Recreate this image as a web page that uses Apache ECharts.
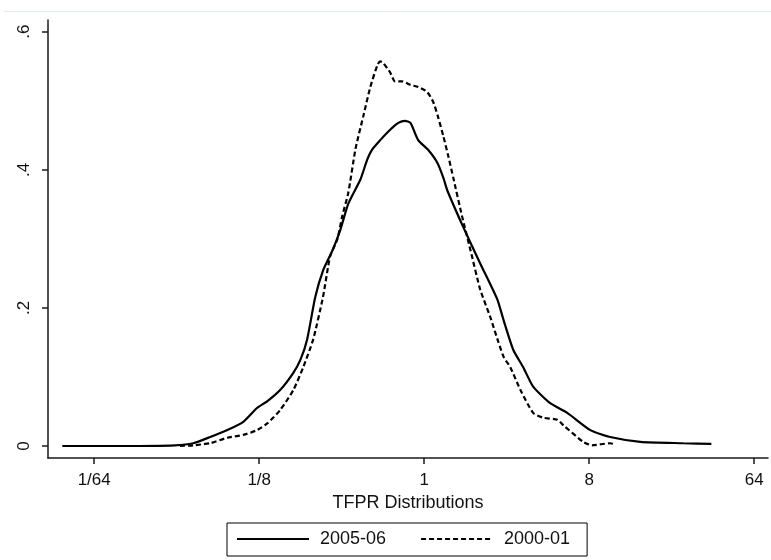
<!DOCTYPE html>
<html>
<head>
<meta charset="utf-8">
<script src="https://cdn.jsdelivr.net/npm/echarts@6/dist/echarts.min.js"></script>
<style>
  html, body { margin: 0; padding: 0; background: #fff; }
  #chart { width: 771px; height: 560px; }
</style>
</head>
<body>
<div id="chart"></div>
<script>
// x values are log2(TFPR), y values are densities
var solidX = [-6.58, -5.5, -4.53, -4.20, -3.89, -3.58, -3.29, -3.04, -2.85, -2.62, -2.38, -2.25, -2.13, -1.98, -1.84, -1.67, -1.53, -1.38, -1.16, -1.04, -0.95, -0.80, -0.62, -0.47, -0.35, -0.25, -0.11, 0.07, 0.24, 0.35, 0.42, 0.71, 1.02, 1.33, 1.44, 1.62, 1.80, 1.98, 2.29, 2.60, 3.02, 3.38, 3.93, 4.71, 5.22];
var solidY = [0, 0, 0.001, 0.004, 0.013, 0.023, 0.035, 0.055, 0.065, 0.081, 0.106, 0.125, 0.154, 0.216, 0.254, 0.283, 0.312, 0.351, 0.386, 0.414, 0.429, 0.443, 0.458, 0.468, 0.471, 0.468, 0.443, 0.429, 0.410, 0.388, 0.370, 0.317, 0.264, 0.212, 0.183, 0.139, 0.114, 0.086, 0.062, 0.048, 0.023, 0.013, 0.006, 0.004, 0.003];

var dashedX = [-4.44, -4.20, -3.89, -3.58, -3.29, -3.04, -2.85, -2.62, -2.38, -2.20, -2.02, -1.84, -1.71, -1.58, -1.49, -1.38, -1.25, -1.11, -0.98, -0.85, -0.80, -0.75, -0.62, -0.53, -0.40, -0.25, -0.11, 0.05, 0.16, 0.25, 0.35, 0.44, 0.53, 0.69, 0.84, 1.02, 1.20, 1.35, 1.45, 1.56, 1.75, 1.98, 2.16, 2.42, 2.53, 2.89, 3.05, 3.38, 3.44];
var dashedY = [0, 0.001, 0.004, 0.012, 0.016, 0.023, 0.033, 0.052, 0.081, 0.114, 0.154, 0.216, 0.275, 0.299, 0.333, 0.367, 0.430, 0.477, 0.520, 0.552, 0.557, 0.555, 0.541, 0.528, 0.528, 0.523, 0.520, 0.513, 0.499, 0.477, 0.448, 0.419, 0.388, 0.332, 0.284, 0.226, 0.187, 0.150, 0.128, 0.115, 0.081, 0.048, 0.041, 0.038, 0.030, 0.006, 0.001, 0.004, 0.003];

var seriesNames = ['2005-06', '2000-01'];

var xTickPos = [-6, -3, 0, 3, 6];
var xTickLabels = ['1/64', '1/8', '1', '8', '64'];
var yTickPos = [0, 0.2, 0.4, 0.6];
var yTickLabels = ['0', '.2', '.4', '.6'];

function pairs(xs, ys) {
  return xs.map(function (x, i) { return [x, ys[i]]; });
}
function nearestLabel(v, pos, labels) {
  var best = 0;
  for (var i = 1; i < pos.length; i++) {
    if (Math.abs(pos[i] - v) < Math.abs(pos[best] - v)) best = i;
  }
  return labels[best];
}

var font = '"Liberation Sans", Arial, sans-serif';
var axisColor = '#1a1a1a';

var myChart = echarts.init(document.getElementById('chart'));

var option = {
  animation: false,
  backgroundColor: '#fff',
  textStyle: { fontFamily: font },
  graphic: [{
    type: 'line',
    shape: { x1: 4, y1: 11.5, x2: 771, y2: 11.5 },
    style: { stroke: '#e3eaea', lineWidth: 1 }
  }],
  grid: { left: 48, right: 3, top: 20, bottom: 102 },
  legend: {
    data: seriesNames,
    left: 227,
    top: 523,
    orient: 'horizontal',
    itemWidth: 72,
    itemHeight: 14,
    itemGap: 34,
    padding: [7, 17, 8, 9],
    borderColor: '#000',
    borderWidth: 1,
    // hide the round marker, keep only the line sample
    itemStyle: { opacity: 0 },
    textStyle: { fontSize: 18, color: '#111', fontFamily: font, padding: [0, 0, 0, 6] }
  },
  xAxis: {
    type: 'value',
    min: -6.84,
    max: 6.25,
    name: 'TFPR Distributions',
    nameLocation: 'middle',
    nameGap: 33,
    nameTextStyle: { fontSize: 18, color: '#111', fontFamily: font },
    axisLine: { show: true, onZero: false, lineStyle: { color: axisColor, width: 1.5 } },
    axisTick: { show: true, length: 6, customValues: xTickPos, lineStyle: { color: axisColor, width: 1.5 } },
    axisLabel: {
      customValues: xTickPos,
      margin: 14,
      fontSize: 17,
      color: '#111',
      fontFamily: font,
      formatter: function (v) { return nearestLabel(v, xTickPos, xTickLabels); }
    },
    splitLine: { show: false }
  },
  yAxis: {
    type: 'value',
    min: -0.0174,
    max: 0.617,
    axisLine: { show: true, onZero: false, lineStyle: { color: axisColor, width: 1.5 } },
    axisTick: { show: true, length: 6, customValues: yTickPos, lineStyle: { color: axisColor, width: 1.5 } },
    axisLabel: {
      customValues: yTickPos,
      rotate: 90,
      margin: 15,
      fontSize: 17,
      color: '#111',
      fontFamily: font,
      formatter: function (v) { return nearestLabel(v, yTickPos, yTickLabels); }
    },
    splitLine: { show: false }
  },
  series: [
    {
      name: seriesNames[0],
      type: 'line',
      symbol: 'none',
      smooth: 0.2,
      data: pairs(solidX, solidY),
      lineStyle: { color: '#000', width: 2.2 },
      itemStyle: { color: '#000' }
    },
    {
      name: seriesNames[1],
      type: 'line',
      symbol: 'none',
      smooth: 0.2,
      data: pairs(dashedX, dashedY),
      lineStyle: { color: '#000', width: 2.2, type: [5, 3] },
      itemStyle: { color: '#000' }
    }
  ]
};

myChart.setOption(option);
</script>
</body>
</html>
